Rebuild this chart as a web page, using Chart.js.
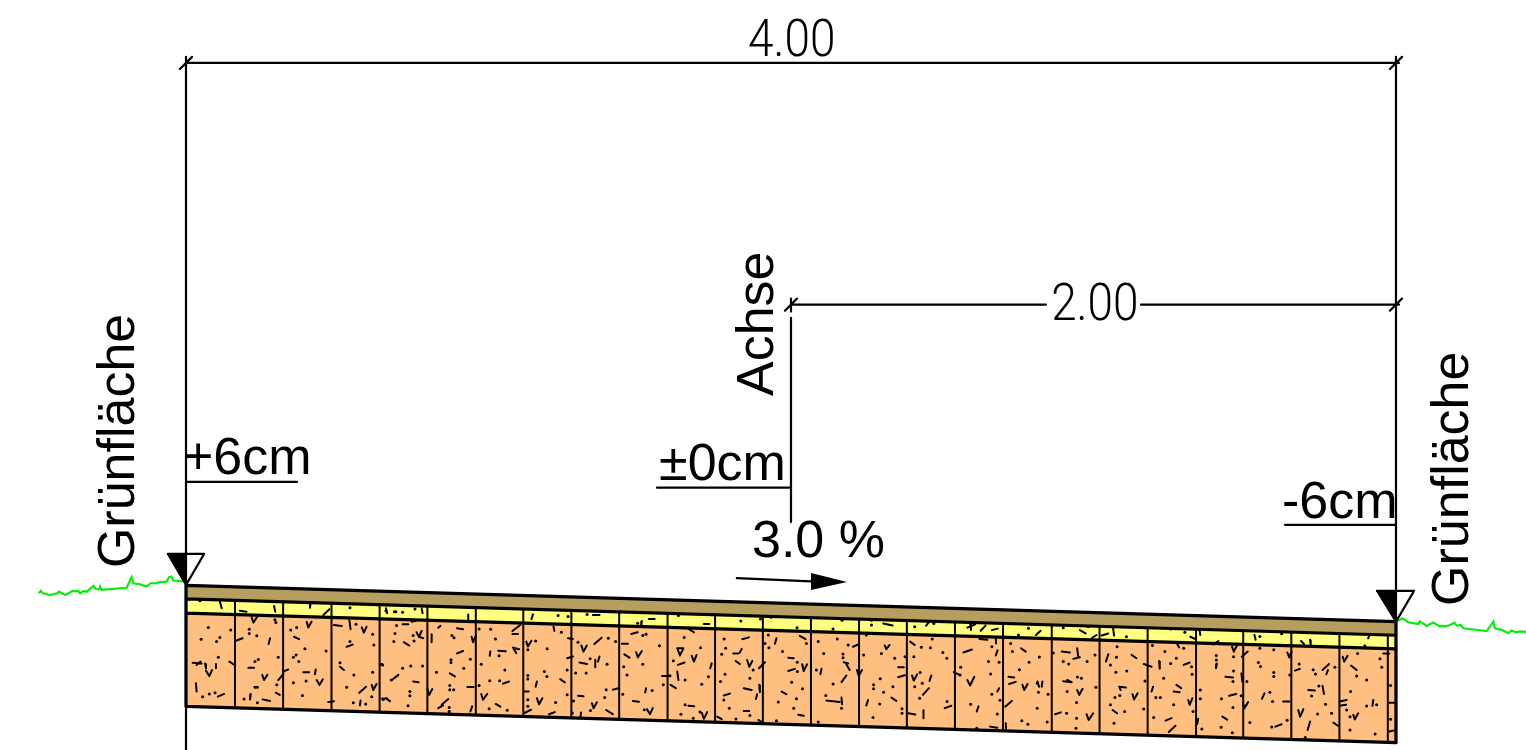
<!DOCTYPE html>
<html>
<head>
<meta charset="utf-8">
<title>Querschnitt</title>
<style>
  html, body { margin: 0; padding: 0; background: #fff; overflow: hidden; }
  canvas { display: block; }
</style>
<script src="https://cdn.jsdelivr.net/npm/chart.js@4/dist/chart.umd.js"></script>
</head>
<body>
<canvas id="chart" width="1526" height="750"></canvas>
<script>
// all lengths in cm: station from the left edge, height relative to the axis
const edgeStations = [0, 400];
const surfaceTop = [6, -6];
const asphaltBottom = [1.5, -10.5];
const yellowBottom = [-3.2, -15];
const baseBottom = [-34, -46];

const jointStations = [16.2, 32.1, 48.1, 64.0, 79.8, 95.8, 111.5, 127.4, 143.2, 159.2, 174.9, 190.7, 206.6, 222.5, 238.3, 254.2, 270.1, 286.2, 302.0, 317.9, 333.9, 349.5, 365.4, 381.3, 397.3];
const jointTops = [1.0, 0.5, 0.1, -0.4, -0.9, -1.4, -1.8, -2.3, -2.8, -3.3, -3.7, -4.2, -4.7, -5.2, -5.6, -6.1, -6.6, -7.1, -7.6, -8.0, -8.5, -9.0, -9.5, -9.9, -10.4];
const jointBottoms = [-34.5, -35.0, -35.4, -35.9, -36.4, -36.9, -37.3, -37.8, -38.3, -38.8, -39.2, -39.7, -40.2, -40.7, -41.1, -41.6, -42.1, -42.6, -43.1, -43.5, -44.0, -44.5, -45.0, -45.4, -45.9];

const grassLeft = [[-48.5,3.6],[-48,4.2],[-47.2,3.4],[-45,2.8],[-42.5,3.4],[-41.9,3.9],[-41.1,3.4],[-39.8,2.8],[-37.5,4.2],[-35.6,4.1],[-35,3.4],[-33.9,4.1],[-32.8,3.9],[-30.6,5.8],[-29.9,4.8],[-28.7,4.7],[-28.4,5.6],[-27.9,4.5],[-19.6,5.2],[-18,8.7],[-17.4,6.7],[-15.2,6.3],[-13,5.6],[-11.7,6.7],[-9.7,6.7],[-9.2,7],[-6.4,7.2],[-5.6,8.7],[-4.8,8.9],[-4.2,7.6],[-0.3,7.2]];
const grassRight = [[400.2,-6],[402.1,-4.9],[404.1,-6.2],[405.7,-6.5],[407.4,-6.8],[407.9,-5.9],[408.8,-6.5],[410.1,-7.4],[412.3,-6.3],[414.5,-7.6],[415.1,-7.3],[416.2,-7.6],[417.9,-7.1],[419.3,-6.3],[420.1,-7.3],[421.4,-7.1],[422.3,-8.2],[430,-9.1],[432.2,-6],[432.7,-8.2],[434.9,-8.7],[437.1,-9.8],[438.2,-9],[439.9,-9.5],[441,-9.2],[443,-9.4]];

// dimension and leader lines as [x1, y1, x2, y2]
const drawingLines = [
  [0,178.7,401,178.7],[-2,176.7,2,180.7],[398,176.7,402,180.7],
  [0,180.7,0,-48.4],[400,180.7,400,-46],
  [200,98.8,284.3,98.8],[315.7,98.8,401,98.8],[198,96.8,202,100.8],[200,96.5,200,100.8],[398,96.8,402,100.8],
  [200,94.4,200,26.9],
  [0,40.2,36.7,40.2],[155.7,38.3,200,38.3],[363.3,26,400,26],
  [182.1,8.4,206.6,7.3]
];
const levelTriangles = [
  [-6,16.4,0,6.1,6,16.4],
  [393.7,4.2,400,-6,406,4.2]
];
const slopeArrowHeadUpper = [[206.6,10.1],[218.5,7.1]];
const slopeArrowHeadLower = [[206.6,4.5],[218.5,7.1]];

const hatchDots = [
  [7.4,-7.9],[14.8,-8.8],[5,-11.8],[10.1,-12.6],[11.2,-11.2],[10.7,-17.8],[5.5,-30.8],[7.7,-29.9],[9.6,-29.5],[20.9,-8.5],[20.9,-9.9],[23.4,-10.7],[29.4,-5.4],[29.7,-6.3],[30.5,-17.8],[22.8,-19.2],[23.9,-18.5],[22.8,-27.7],[23.6,-27.7],[23.6,-32.8],[19.2,-31.6],[30,-26.9],[34.6,-8.8],[36.6,-7.9],[36.4,-17],[35.5,-17.8],[37.3,-19.2],[39.3,-15],[46.3,-15.7],[35.5,-26.2],[39.7,-25.6],[38.5,-30.4],[54.2,-12.6],[61.7,-10.2],[62.1,-13.7],[65,-20.3],[61.7,-22.7],[55.5,-23.6],[53.1,-27.7],[61.4,-30.8],[55.3,-32.8],[59.4,-33.2],[50.9,-19.6],[65.2,-31.7],[56.2,-6.9],[4.6,0.9],[54.2,-1.4],[66.1,-2.4],[68.9,-2.7],
  [69.6,-7.3],[69.1,-9.9],[68.7,-12.6],[75.1,-10.6],[75.4,-12.4],[64.7,-20.1],[71.6,-21.4],[74.3,-20.7],[78.2,-20.7],[67.9,-25.3],[74,-29.1],[74,-30.5],[73.4,-33.8],[65,-31.5],[82.8,-22.7],[87.6,-18.6],[87.6,-19.5],[94,-18.4],[91.8,-21.4],[87.2,-27.1],[88.5,-28.5],[87.2,-28.5],[87,-34.4],[87,-35.7],[87.9,-10.6],[88.6,-11.3],[96.9,-8.4],[100.7,-8.5],[102.3,-11.7],[103.5,-17.3],[97.6,-20.1],[105.4,-22],[103.7,-25.5],[100.4,-25.5],[96.9,-27.1],[100.2,-34.8],[106.2,-35.3],[115.6,-12.4],[113,-15.3],[119.4,-15],[124.1,-9.5],[113,-23.8],[113,-25],[118.5,-22.5],[119.3,-24.1],[126,-22],[126,-30.2],[122.2,-32.7],[113,-31.8],[113,-34],[129.6,-12.8],[133.6,-18.3],[139.6,-11.5],[142,-12.6],[139.2,-20.1],[132.3,-23],[128.8,-23],[138.9,-28.5],[138.4,-31.1],[128.1,-32.2],[133.7,-35.4],[127.7,-36.2],[151,-10.6],[156.5,-14],[152.1,-10.2],[144.7,-20.9],[145.8,-23.6],[151,-20.1],[157.8,-26.9],[144.4,-30],[154.1,-28.8],[151.5,-35.1],[69.4,-2.7],[71.6,-2.9],[75.7,-1.8],[84.8,-1],[123,-4],[126.3,-4.3],[132.6,-3.6],[149.3,-6.5],
  [162.8,-4],[164.7,-11.2],[170.1,-14.6],[161.1,-18.9],[165,-25.3],[170.5,-26.7],[172.7,-24.2],[160,-23.9],[165,-33.5],[163.6,-36.6],[169.9,-35.9],[167.7,-37.9],[177.9,-11.7],[178.4,-14.8],[177.1,-16.8],[178.2,-23.4],[176.7,-25.8],[177.8,-31.9],[179.6,-34.6],[181.8,-38.2],[186.4,-24.7],[187.5,-22],[186.4,-37],[183.4,-5.8],[189.9,-5.1],[192.5,-10.4],[191.4,-13.2],[192.7,-14.6],[197.2,-15.9],[202.1,-19.4],[202.1,-22.5],[200.2,-26],[203.8,-28.2],[201.8,-31.5],[195.8,-32.6],[200.9,-34.6],[195.2,-38.8],[205.1,-13.2],[202,-8],[209,-12.6],[215.3,-11.7],[218.9,-13.7],[210.8,-16.5],[217.2,-16.7],[217.2,-17.9],[208.4,-22],[213.9,-26.6],[211.5,-30.4],[216.7,-34.6],[209,-39.2],[216.9,-5.5],[213.9,-8.4],[224,-17],[224.9,-10.4],[229.5,-24.9],[233.7,-27.5],[227.3,-26.9],[227.3,-28.2],[230.6,-29.3],[229.3,-33.2],[227.1,-37.7],[229.9,-16.5],[234.3,-18.1],[237.7,-17.6],[226.6,-5.5],[226.6,-7.1],[240.6,-17.6],[243.1,-14.5],[246.1,-14.6],[246.7,-11.7],[250.2,-16.2],[251.5,-18.1],[242.7,-22.8],[240.9,-27.5],[243.4,-26.4],[242.5,-31.3],[236.7,-34.8],[236.7,-36.3],[251.6,-32.4],[240.9,-7.7],[247.2,-6.6],
  [266.4,-14.3],[265.3,-19.2],[268.8,-19.4],[266,-23.3],[256.1,-21.1],[255.9,-23.6],[266.4,-30],[259.4,-33.3],[269.1,-32],[268.2,-36.5],[261.4,-41.2],[278.5,-8.2],[275.2,-10.4],[272.6,-13.2],[273.2,-15.9],[282.1,-17.7],[278.7,-19.4],[275.5,-21.9],[281.4,-26.4],[281.8,-29.3],[285,-30],[281.4,-34.6],[276.3,-38.8],[278.3,-39.9],[284.7,-39.2],[290,-8],[286.7,-16.4],[290,-19.2],[291.8,-20],[297.9,-19.2],[300.5,-17],[294.7,-24.3],[296,-24.7],[300.8,-27.7],[291.3,-29.1],[294.4,-32.7],[291.1,-36.3],[294.4,-37.9],[294.2,-41.2],[298.3,-7.6],[310.9,-11],[307.8,-14.3],[307.6,-17.8],[305.6,-20.3],[307.4,-22.7],[311,-22.3],[317,-25.6],[308.7,-30.4],[307.1,-31.1],[305.6,-33.5],[310.3,-35.7],[316.6,-34.9],[306.8,-39.6],[325.5,-8.4],[330.2,-9.5],[319.5,-13.9],[323.6,-15.9],[329.8,-14.8],[325.5,-19.8],[327.4,-18.1],[332.4,-20.9],[332.6,-23.4],[323.2,-24.7],[320.6,-31.1],[322.1,-31.1],[326.5,-33.5],[332.9,-35.7],[319.9,-37.7],[335.3,-28.6],[335.3,-31.5],[342.3,-31.5],[340.6,-17.2],[340.6,-18.7],[346.3,-17.6],[346.3,-22.3],[346.1,-25.8],[348.8,-30.5],[346.1,-34.4],[342.2,-40.9],[345.9,-42.7],[335.8,-41.5],[350.7,-25.8],
  [355,-14.8],[359.6,-15.3],[354.5,-19.5],[355.2,-20.8],[359.6,-22.8],[359.6,-24.1],[364.9,-23.6],[358.3,-29.3],[359.2,-32.4],[351.7,-39.3],[358.9,-40.8],[364,-38.6],[355,-10.9],[362.2,-10],[368,-20],[372.6,-21.9],[373.4,-23.3],[379.8,-21.1],[374.1,-36.5],[378.7,-36.3],[376.7,-33.3],[372.1,-30.6],[374.5,-27.3],[370,-44.3],[387.3,-16.5],[394.7,-18.3],[395.3,-21.1],[387,-24],[390.3,-25.3],[385,-29.1],[393.6,-33.5],[390.3,-33.9],[383.7,-35.2],[384.8,-37.4],[384.8,-41.8],[393.1,-43.1],[398.2,-27.1],[398.2,-38.3],[379.8,-9.8],[389.7,-14]
];

const hatchTicks = [
  [11.2,0.6,11.8,-1.6],[29.1,-0.8,29.5,-2.7],[41.2,0.3,41,-1.4],[17.8,-2.4,20,-2.7],[45.4,-3.8,47.4,-1.9],[48.9,-7.1,51.5,-7.4],[54,-5.4,54.4,-8.5],[53.1,-14.3,55.1,-13.6],[35.7,-11,37.4,-11.8],[16.5,-12.3,18.7,-11.5],[27.8,-11.5,27.3,-13.4],[2.2,-19.6,5.2,-19.8],[3.5,-20.3,4.8,-19.2],[6.3,-19.8,6.6,-21.4],[9.9,-20,9.9,-21.4],[14.3,-19.2,16.1,-20.3],[6.6,-22.2,7.7,-24],[7.7,-24,8.6,-22],[3.3,-26.4,3.5,-29.1],[10.5,-30.8,12.6,-29.9],[20.6,-21.2,22.5,-21.2],[25.2,-23.6,25.8,-25.3],[25.8,-25.3,26.9,-23.6],[30.5,-25.3,32.2,-23.3],[32.2,-22.5,33.8,-21.8],[21.4,-29.9,21.2,-31.7],[25.3,-31.7,27.8,-32.2],[29.7,-29.5,31,-30.2],[38.8,-22.7,40.7,-22.7],[42.9,-21.8,42.6,-23.4],[43.2,-25.3,44.1,-26.9],[44.1,-26.9,45.2,-25.1],[39.9,-6,40.4,-7.9],[40.4,-7.9,41.5,-6],[21.7,-4.6,22.3,-6.3],[22.3,-6.3,23.6,-4.3],[58.1,-7.9,58.8,-9.6],[58.8,-9.6,59.7,-7.7],[50.9,-20.9,52.2,-22],[57.3,-29.5,59.5,-27.5],[61.4,-26.9,61.9,-28.6],[61.9,-28.6,63,-26.6],[57.7,-32.1,57.5,-33.7],[66.3,-31.3,67.4,-32.3],[68,-25.3,70.2,-23.6],[47,-32.6,48.9,-32.3],
  [66.1,-1.6,66.5,-3.2],[77.9,-1.6,78.2,-3.2],[93.3,-3.6,93.3,-5.2],[114.7,-3.6,114.2,-5.2],[134.5,-3.8,136.7,-3.8],[153,-5.1,154.9,-5.1],[150.7,-5.8,150.5,-7.3],[71.6,-6.9,73.5,-6.9],[74.6,-6,76,-5.7],[76.2,-9.5,77,-11],[77,-11,78.4,-11.5],[77,-11,77.9,-9.1],[72,-12.8,73.8,-13.9],[68,-25.3,70.1,-23.8],[75.1,-25.8,76.9,-26],[65.8,-31.3,67.4,-32.2],[79.8,-28.3,80.4,-30.2],[80.4,-30.2,81.4,-28.3],[81.2,-10.2,81.2,-12.8],[83.4,-8,84.1,-7.4],[89.6,-8.2,91.6,-8.5],[89.6,-16.5,91.6,-15.7],[87.2,-23.1,88.9,-24.1],[93,-27.6,95.1,-27.6],[83.4,-34.6,85,-33.7],[84.5,-33.5,86.7,-31.6],[94,-35.7,94.6,-34],[94.4,-11,94.9,-12.8],[94.9,-12.8,95.8,-10.6],[100.6,-15.9,100.4,-17.3],[103.2,-15.6,105.7,-15.8],[108.1,-14.6,109.2,-16.4],[108.1,-14.6,110.1,-15.1],[104.8,-26.5,106.8,-25.8],[97.6,-29.9,98.2,-31.8],[98.2,-31.8,99.6,-29.9],[102.4,-33.2,103.9,-34.1],[107.9,-9.1,110.5,-7.1],[107.9,-10.1,109.8,-10.1],[121.5,-7.6,121.8,-9.1],[112.5,-12.6,113,-14.2],[113,-14.2,114.2,-12.3],[126.3,-11.5,127.9,-11.7],[126,-18.1,127.9,-17.5],[115.6,-27.5,116,-25.8],[123.7,-25,125.3,-26.1],[111.6,-29.1,113.3,-29.1],[116,-31.3,116.7,-33.3],[116.7,-33.3,117.8,-31.3],[111.9,-36.2,114.1,-35.1],[120,-36.6,121.9,-35.9],[130.7,-13.9,131.4,-15.9],[131.4,-15.9,132.5,-13.9],[135,-13.4,137.4,-11.3],[130.1,-19.5,132.6,-20],[135.3,-18.6,135.3,-21.1],[136.7,-17.5,136.2,-19.2],[129.6,-30.5,131.4,-30.7],[141.1,-28.5,142.9,-28],[134.2,-33,134.7,-34.6],[134.7,-34.6,135.8,-32.7],[138.9,-35.2,141.1,-36.6],[130.6,-36,130.4,-37.3],[144.1,-13.3,146.1,-13.3],[147.2,-10.1,149.3,-9.5],[144.9,-16.8,146.6,-17.9],[148.8,-16.1,149.4,-17.8],[149.4,-17.8,150.7,-15.7],[152.1,-28,151.8,-29.4],[147.7,-32.2,149.7,-32.5],[152.4,-35,153.4,-36.6],[153.4,-36.6,154.3,-34.6],[157.4,-24,159.6,-24],
  [171.2,-6.8,173,-6.8],[166.1,-8.4,167.9,-9.5],[162.4,-14.8,164.4,-14.8],[162.4,-14.8,163.3,-17.2],[163.3,-17,164.4,-15],[167.2,-17.3,167.9,-19.2],[167.9,-19.2,168.8,-17],[162.6,-20.3,164.8,-19.5],[173.8,-19.8,173.3,-21.4],[162.4,-22.5,162.8,-25.3],[160.2,-26.9,161.9,-28],[166.1,-33.8,168,-34],[170.5,-36.1,171.2,-38.1],[171.2,-38.1,172.3,-35.9],[183.9,-11.8,186.1,-11.2],[180.9,-16.5,182.6,-16.5],[183.7,-15,183.1,-16.2],[181.7,-19,183.1,-20],[185.5,-18.7,186.2,-20.9],[186.2,-20.9,187.2,-19],[184.4,-28,187,-28.6],[189.5,-26.9,189.7,-29.3],[188.8,-30,188.4,-31.6],[177.8,-30.4,179.8,-29.8],[184.4,-35.5,186.2,-35.5],[175.6,-37.4,177.1,-38.2],[189.2,-38.5,190.3,-39.2],[189.4,-21.4,191.4,-19.4],[193.3,-4.7,195.2,-4.1],[195.2,-11.5,194.7,-13.3],[202.9,-10.7,204.8,-11.8],[199.1,-17.9,200.9,-18.1],[199.1,-22.3,201.3,-21.6],[203.7,-20.1,204.2,-22.3],[204.2,-22.3,205.3,-20.1],[196.9,-29.1,198.5,-30],[202.4,-36.8,204.2,-37.1],[220.5,-14.3,222.3,-13.5],[217.4,-19.4,218.9,-19.8],[218.3,-20.1,219.4,-22],[210.1,-21.6,209.7,-23.4],[218.3,-23.8,216.7,-26],[211.7,-32.1,216.1,-32.6],[216.7,-31.1,216.9,-33.3],[221.8,-22,222.4,-23.9],[222.4,-23.9,223.5,-22],[230.5,-6.6,233.6,-7.3],[231,-13.9,231.5,-15.1],[231.5,-15.1,232.6,-13.7],[235.4,-21.1,237.3,-21.1],[235.4,-24.4,237.6,-23.7],[225.5,-31.9,224.9,-33.7],[233.2,-31.1,234.8,-32.2],[244.7,-7.3,245.8,-5.8],[239.4,-12.6,240.9,-13.7],[240,-23.8,240.6,-25.5],[240.6,-25.5,241.7,-23.4],[246.4,-23.8,245.8,-25.6],[245.6,-28,243.6,-30.2],[238.7,-36.3,241.1,-36.7],[243.8,-35.3,243.8,-37.9],[250.8,-34.6,253,-33.8],[253.8,-22.7,255.7,-23.6],
  [258.3,-8,260.9,-6.9],[259.2,-6.6,259.5,-8.8],[262.7,-9,264.3,-7.3],[266.4,-8.8,268.3,-8.3],[262.3,-11.7,264.9,-12],[267.7,-11.5,267.8,-13.2],[257,-16.2,259.8,-15.2],[268.3,-15.5,267.7,-17.2],[258.3,-25.3,259.2,-27.1],[259.2,-27.1,260.6,-24.2],[261.4,-35.7,262,-34],[268.8,-28,268.2,-29.1],[265.8,-40.7,268.2,-41.1],[270.8,-34.1,273,-32.2],[271,-39.6,271.1,-41.4],[281,-10.4,282.5,-9],[276,-14.8,277.6,-15.9],[271.9,-24.2,273.8,-24.5],[272.1,-26.6,274.3,-25.9],[276.5,-26.9,277.1,-28.6],[277.1,-28.6,278.2,-26.6],[282,-27.5,281.5,-25.8],[283.1,-25.8,282.9,-27.5],[295.5,-8.8,297.4,-9.9],[299.4,-11.5,301,-10.4],[289.5,-15.9,292.2,-16.2],[294.6,-14.8,295,-17.9],[293.3,-18.3,295.5,-17.8],[290,-25.7,292.8,-26],[291.3,-25.3,292.8,-26],[294.6,-28.6,295.3,-30.2],[295.3,-30.2,296.4,-28.2],[287.3,-36.6,289.2,-36],[297.7,-36.6,298.4,-38.5],[298.4,-38.5,299.9,-36.3],[302.7,-10.6,304.9,-9.9],[306.5,-8.2,306.8,-10.6],[304.9,-16.8,304.1,-19.2],[312.6,-17,314.2,-18.1],[308.5,-27.5,310.7,-27.8],[308.5,-27.5,309,-28.6],[312.9,-30,313.4,-31.7],[313.4,-31.7,314.6,-29.7],[306.3,-35.2,307.8,-36.3],[316.6,-20,319.2,-20.9],[321.7,-19,321.9,-21.6],[319.2,-29.1,319.7,-27.5],[326.5,-29.1,328.5,-29.3],[327.4,-26.9,329,-28],[323.8,-38.7,325.8,-37.9],[324.9,-42.5,327.1,-40.4],[327.6,-13.2,328.3,-14.5],[329.8,-20.3,331.8,-19.5],[331.3,-31.9,331.8,-33.5],[331.8,-33.5,332.7,-31.3],[332,-11,333.5,-11.7],[335.1,-8.8,335.3,-10.4],[339.5,-13.5,341.3,-12.4],[340.8,-19.8,340.5,-21.4],[343.6,-24.2,346.1,-24.5],[344.8,-30.5,347.2,-29.9],[342.6,-37.4,344.2,-38.4],[334.6,-38.1,334.3,-39.8],[345.8,-14.3,346.4,-15.9],[346.4,-15.9,347.4,-13.9],[348.9,-23.1,349.2,-25.8],[349.4,-33,349.9,-34.6],[349.9,-34.6,351.1,-32.6],
  [353.2,-10.4,353.6,-12],[368.6,-12.4,369.6,-13.4],[371.6,-12,371.8,-13.7],[391.4,-10.1,390.8,-11.5],[349,-17.6,351,-15.9],[364.1,-16.2,364.7,-17.8],[364.7,-17.8,365.5,-15.9],[356.5,-29.7,355.7,-31.5],[362.7,-32.4,364.7,-32.4],[360.1,-40.7,362.2,-39.9],[366.6,-22.2,368.2,-21.6],[375.7,-22,377.9,-20],[377,-23.4,377.5,-22],[371,-28.6,373.2,-28.8],[375.7,-27.2,376.2,-29.9],[367.7,-35.2,368.3,-37.4],[368.3,-37.4,369.4,-34.9],[371.6,-39,370.8,-41.8],[379.3,-39.4,380.8,-40.4],[382.4,-17.6,382.9,-19.2],[382.9,-19.2,384,-17.3],[385.1,-20.5,387,-22],[381.3,-32.4,383.7,-31.9],[381.3,-33.8,383.5,-33.5],[385.9,-36.8,386.4,-38.3],[386.4,-38.3,387.5,-36.3],[392.5,-31.9,392.2,-33.8],[395.8,-16.5,397.8,-16.5],[397.8,-32.8,399.7,-32.8],[397.8,-42.3,399.3,-42]
];

const pairs = (xs, ys) => xs.map((x, i) => ({ x, y: ys[i] }));
const pts = (list) => list.map(([x, y]) => ({ x, y }));
// break the line between segments with an empty point
const segments = (list) => list.flatMap(([x1, y1, x2, y2]) => [{ x: x1, y: y1 }, { x: x2, y: y2 }, { x: null, y: null }]);

const jointSegments = jointStations.map((x, i) => [x, jointTops[i], x, jointBottoms[i]]);
const layerOutline = [
  [edgeStations[0], surfaceTop[0], edgeStations[1], surfaceTop[1]],
  [edgeStations[0], asphaltBottom[0], edgeStations[1], asphaltBottom[1]],
  [edgeStations[0], yellowBottom[0], edgeStations[1], yellowBottom[1]],
  [edgeStations[0], baseBottom[0], edgeStations[1], baseBottom[1]],
  [edgeStations[0], surfaceTop[0], edgeStations[0], baseBottom[0]],
  [edgeStations[1], surfaceTop[1], edgeStations[1], baseBottom[1]]
];
const triangleOutline = levelTriangles.flatMap(([ax, ay, bx, by, cx, cy]) => [[ax, ay, cx, cy], [cx, cy, bx, by]]);

// the text is not data of a dataset, so it is set from here through the scales
const drawingTexts = [
  { text: "4.00", x: 185.8, y: 181, dim: true },
  { text: "2.00", x: 286, y: 93.6, dim: true },
  { text: "+6cm", x: -1, y: 42.8 },
  { text: "±0cm", x: 156.4, y: 40.7 },
  { text: "-6cm", x: 362.3, y: 28.3 },
  { text: "3.0 %", x: 187.1, y: 15.5 },
  { text: "Grünfläche", x: -17.2, y: 11.7, up: true },
  { text: "Grünfläche", x: 423.8, y: -0.8, up: true },
  { text: "Achse", x: 194, y: 68.6, up: true }
];

const textPlugin = {
  id: "drawingTexts",
  afterDraw(chart) {
    const { ctx, scales } = chart;
    ctx.save();
    ctx.fillStyle = "#000";
    ctx.textBaseline = "alphabetic";
    for (const t of drawingTexts) {
      ctx.save();
      ctx.translate(scales.x.getPixelForValue(t.x), scales.y.getPixelForValue(t.y));
      if (t.up) ctx.rotate(-Math.PI / 2);
      if (t.dim) {
        ctx.scale(0.9, 1);
        ctx.font = '300 51px Roboto, "Liberation Sans", sans-serif';
      } else {
        ctx.font = '52px "Liberation Sans", Arial, sans-serif';
      }
      ctx.fillText(t.text, 0, 0);
      ctx.restore();
    }
    ctx.restore();
  }
};

const lineSet = (data, width, color) => ({
  data, showLine: true, pointRadius: 0, borderColor: color || "#000", borderWidth: width,
  borderCapStyle: "round", spanGaps: false, fill: false
});
const layerFill = (top, bottomIsNext, color) => ({
  data: pairs(edgeStations, top), showLine: true, pointRadius: 0, borderWidth: 0,
  fill: bottomIsNext ? "+1" : false, backgroundColor: color
});

new Chart(document.getElementById("chart"), {
  type: "scatter",
  data: {
    datasets: [
      // first dataset ends up on top
      lineSet(segments(drawingLines), 2.2),
      lineSet(segments(triangleOutline), 2.2),
      {
        data: pts(slopeArrowHeadUpper), showLine: true, pointRadius: 0, borderWidth: 0,
        fill: "+1", backgroundColor: "#000"
      },
      { data: pts(slopeArrowHeadLower), showLine: true, pointRadius: 0, borderWidth: 0, fill: false },
      {
        data: [{ x: levelTriangles[0][0], y: levelTriangles[0][1] }, { x: levelTriangles[0][2], y: levelTriangles[0][3] }],
        showLine: true, pointRadius: 0, borderWidth: 2, borderColor: "#000",
        fill: { target: { value: levelTriangles[0][1] } }, backgroundColor: "#000"
      },
      {
        data: [{ x: levelTriangles[1][0], y: levelTriangles[1][1] }, { x: levelTriangles[1][2], y: levelTriangles[1][3] }],
        showLine: true, pointRadius: 0, borderWidth: 2, borderColor: "#000",
        fill: { target: { value: levelTriangles[1][1] } }, backgroundColor: "#000"
      },
      lineSet(pts(grassLeft), 2.2, "#0cec0c"),
      lineSet(pts(grassRight), 2.2, "#0cec0c"),
      lineSet(segments(layerOutline), 3.2),
      lineSet(segments(jointSegments), 2),
      lineSet(segments(hatchTicks), 2),
      { data: pts(hatchDots), showLine: false, pointRadius: 1.5, pointBackgroundColor: "#000", pointBorderWidth: 0 },
      layerFill(surfaceTop, true, "#b59e5f"),
      layerFill(asphaltBottom, true, "#ffff80"),
      layerFill(yellowBottom, true, "#ffbf80"),
      layerFill(baseBottom, false, "#ffbf80")
    ]
  },
  options: {
    responsive: false,
    animation: false,
    events: [],
    layout: { padding: 0, autoPadding: false },
    scales: {
      x: { type: "linear", display: false, min: -61.49, max: 442.98 },
      y: { type: "linear", display: false, min: -48.43, max: 199.5 }
    },
    plugins: {
      legend: { display: false },
      title: { display: false },
      tooltip: { enabled: false }
    }
  },
  plugins: [textPlugin]
});
</script>
</body>
</html>
